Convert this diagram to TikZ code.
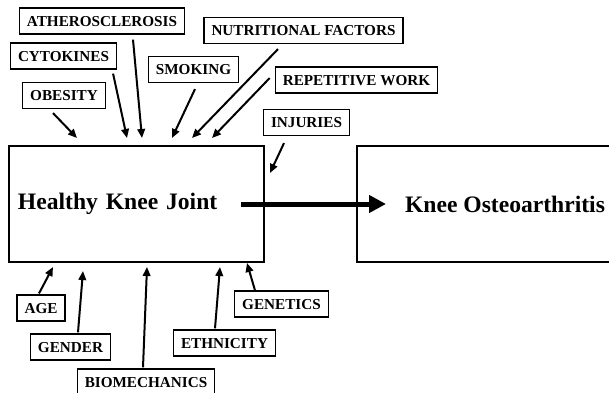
\documentclass[tikz,border=0pt]{standalone}
\usepackage{fontspec}
\setmainfont{Liberation Serif}
\usetikzlibrary{arrows.meta,calc}
\tikzset{
  factor/.style={draw,line width=0.6pt,font=\fontsize{7.6}{9}\selectfont\bfseries,
    inner xsep=3.75pt,inner ysep=3.9pt,text height=5.2pt,text depth=0pt},
  stage/.style={draw,line width=1pt,minimum height=58pt,
    font=\fontsize{11.8}{14}\selectfont\bfseries},
  cause/.style={-{Triangle[length=4.5pt,width=3.8pt]},line width=1pt},
  progress/.style={-{Triangle[length=8.5pt,width=8.5pt]},line width=2.5pt}
}
\begin{document}
\begin{tikzpicture}[x=0.5pt,y=-0.5pt]
      \clip (0,0) rectangle (609,392);
      % the two stages
      \node[stage,minimum width=127.5pt,text width=118.5pt,align=left,inner xsep=4.5pt] (healthy) at (136.5,204) {Healthy Knee Joint};
      \node[stage,minimum width=148pt] (knee) at (505,204) {Knee Osteoarthritis};
      \draw[progress] ([xshift=-12pt]healthy.east) -- ([xshift=15pt]knee.west);
      % factors above
      \node[factor] (athero) at (102,21) {ATHEROSCLEROSIS};
      \node[factor] (cyto) at (63.5,56) {CYTOKINES};
      \node[factor] (obesity) at (64,95.5) {OBESITY};
      \node[factor] (smoking) at (193.5,69.5) {SMOKING};
      \node[factor] (nutri) at (303.5,30.5) {NUTRITIONAL FACTORS};
      \node[factor] (repet) at (356.5,80) {REPETITIVE WORK};
      \node[factor] (injur) at (306.5,122.5) {INJURIES};
      % factors below
      \node[factor] (age) at (41,308) {AGE};
      \node[factor] (gender) at (70.5,347) {GENDER};
      \node[factor] (biomech) at (146,382) {BIOMECHANICS};
      \node[factor] (ethnic) at (224.5,343) {ETHNICITY};
      \node[factor] (genetics) at (281.5,304) {GENETICS};
      % arrow ends at the healthy joint
      \coordinate (pObesity) at (77,138);
      \coordinate (pCyto) at (127,138);
      \coordinate (pAthero) at (142,138);
      \coordinate (pSmoking) at (172,138);
      \coordinate (pNutri) at (192,138);
      \coordinate (pRepet) at (212,138);
      \coordinate (pInjur) at (270,173);
      \coordinate (pAge) at (53,267);
      \coordinate (pGender) at (83,271);
      \coordinate (pBiomech) at (147,267);
      \coordinate (pEthnic) at (220,267);
      \coordinate (pGenetics) at (247,263);
      \draw[cause] ($(obesity.south)+(-11,4)$) -- (pObesity);
      \draw[cause] ($(cyto.south east)+(-4,4)$) -- (pCyto);
      \draw[cause] ($(athero.south)+(31,5)$) -- (pAthero);
      \draw[cause] ($(smoking.south)+(1.5,6)$) -- (pSmoking);
      \draw[cause] ($(nutri.south)+(-25.5,5)$) -- (pNutri);
      \draw[cause] ($(repet.west)+(-5,-2)$) -- (pRepet);
      \draw[cause] ($(injur.south)+(-22.5,7)$) -- (pInjur);
      \draw[cause] ($(age.north)+(-2,-1)$) -- (pAge);
      \draw[cause] ($(gender.north)+(7.5,-1)$) -- (pGender);
      \draw[cause] ($(biomech.north)+(-3,-1)$) -- (pBiomech);
      \draw[cause] ($(ethnic.north)+(-9.5,-1)$) -- (pEthnic);
      \draw[cause] ($(genetics.north)+(-26.5,0)$) -- (pGenetics);
    \end{tikzpicture}
\end{document}
